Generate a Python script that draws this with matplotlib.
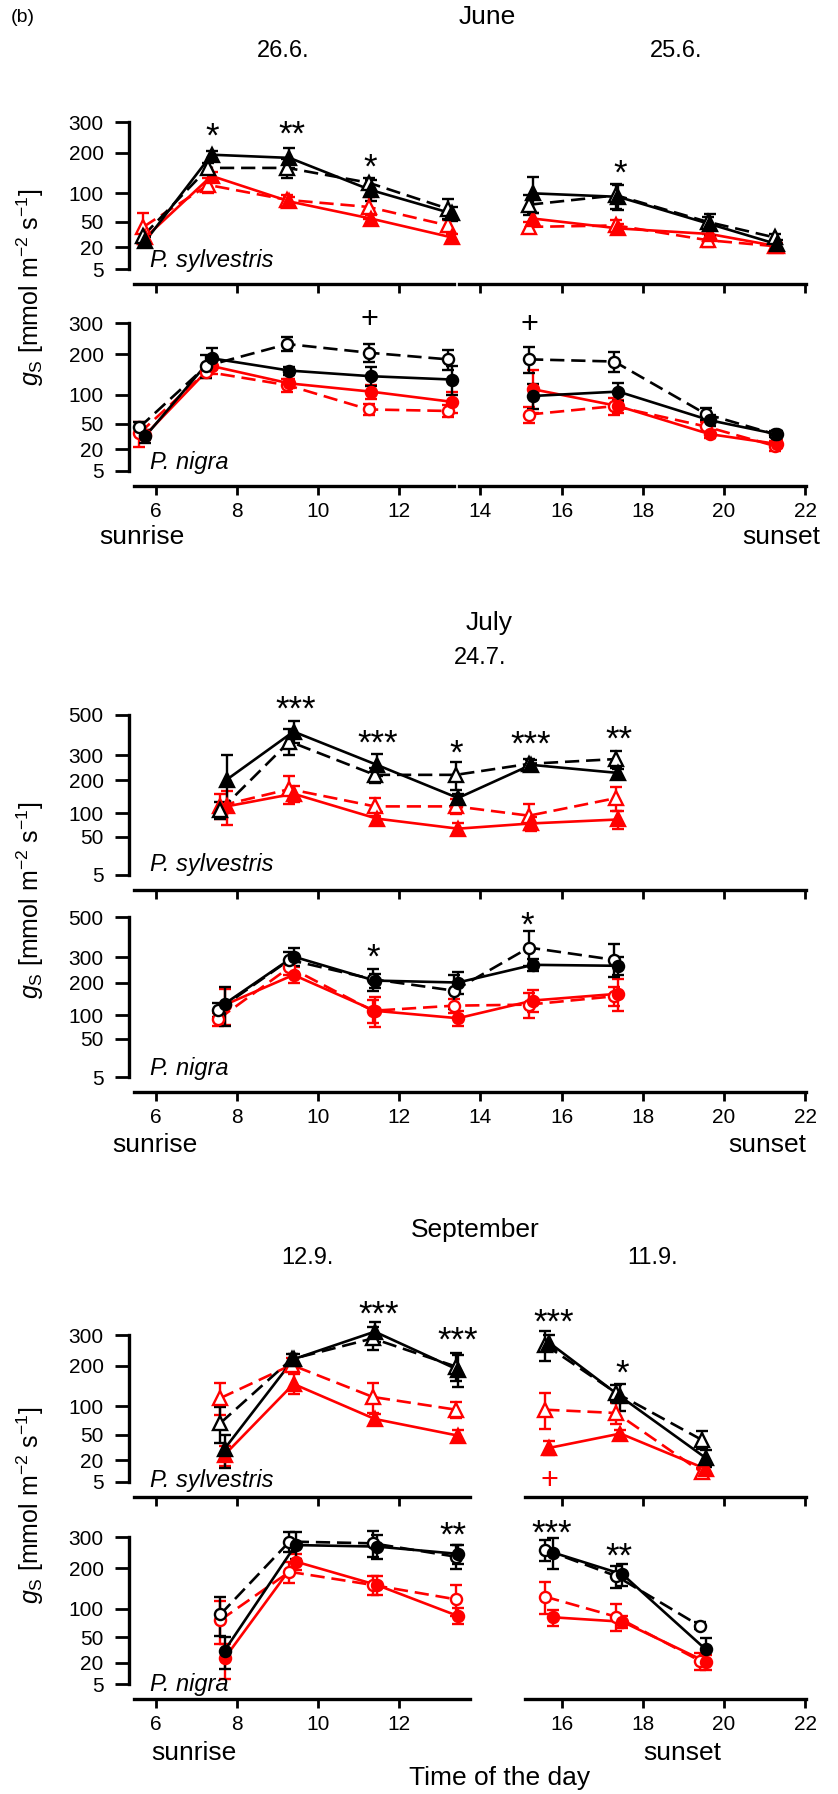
import numpy as np
import matplotlib
matplotlib.use('Agg')
import matplotlib.pyplot as plt

# ---- data (g_s, mmol m-2 s-1) ----
# June, P. sylvestris (triangles); 26.6. morning + 25.6. afternoon
jun_syl_t_fill = [5.75, 7.38, 9.3, 11.3, 13.3, 15.3, 17.4, 19.65, 21.3]
jun_syl_t_open = [5.7, 7.3, 9.25, 11.25, 13.2, 15.2, 17.35, 19.6, 21.25]
jun_syl_blk_fill = [26, 195, 186, 107, 63, 100, 93, 47, 23]
jun_syl_blk_fill_err = [5, 10, 28, 22, 11, 37, 25, 15, 4]
jun_syl_blk_open = [32, 159, 159, 123, 71, 78, 96, 50, 30]
jun_syl_blk_open_err = [6, 12, 25, 12, 17, 18, 25, 8, 4]
jun_syl_red_fill = [30, 139, 84, 55, 30, 55, 41, 34, 21]
jun_syl_red_fill_err = [5, 10, 8, 5, 4, 8, 6, 6, 3]
jun_syl_red_open = [43, 118, 87, 74, 45, 43, 45, 27, 21]
jun_syl_red_open_err = [20, 17, 10, 19, 8, 7, 8, 7, 3]

# June, P. nigra (circles)
jun_nig_t_fill = [5.75, 7.38, 9.3, 11.3, 13.3, 15.3, 17.4, 19.65, 21.3]
jun_nig_t_open = [5.6, 7.25, 9.25, 11.25, 13.2, 15.2, 17.3, 19.55, 21.25]
jun_nig_blk_fill = [33.5, 189, 156, 142, 134, 98, 107, 55, 36]
jun_nig_blk_fill_err = [8, 30, 10, 22, 35, 25, 18, 8, 4]
jun_nig_blk_open = [44.6, 168, 231, 205, 186, 186, 180, 65, 36]
jun_nig_blk_open_err = [8, 30, 22, 25, 28, 35, 28, 10, 4]
jun_nig_red_fill = [35, 168, 125, 107, 86.5, 112, 78.5, 36, 25]
jun_nig_red_fill_err = [6, 20, 10, 15, 20, 45, 12, 5, 4]
jun_nig_red_open = [37, 153, 121, 72.6, 70, 64, 78.5, 46, 23]
jun_nig_red_open_err = [15, 15, 15, 10, 10, 13, 15, 6, 5]

# July 24.7., P. sylvestris
jul_syl_t_fill = [7.75, 9.4, 11.45, 13.45, 15.25, 17.4]
jul_syl_t_open = [7.6, 9.3, 11.4, 13.4, 15.2, 17.35]
jul_syl_blk_fill = [202, 411, 259, 142, 259, 227]
jul_syl_blk_fill_err = [100, 58, 45, 12, 20, 15]
jul_syl_blk_open = [108, 362, 220, 220, 263, 283]
jul_syl_blk_open_err = [23, 60, 28, 52, 22, 35]
jul_syl_red_fill = [118, 155, 87, 65, 76, 85]
jul_syl_red_fill_err = [45, 25, 15, 12, 15, 20]
jul_syl_red_open = [120, 170, 118, 118, 94, 142]
jul_syl_red_open_err = [35, 44, 24, 20, 32, 35]

# July 24.7., P. nigra
jul_nig_t_fill = [7.7, 9.4, 11.4, 13.45, 15.3, 17.4]
jul_nig_t_open = [7.55, 9.3, 11.35, 13.35, 15.2, 17.3]
jul_nig_blk_fill = [131, 303, 207, 200, 268, 264]
jul_nig_blk_fill_err = [55, 40, 25, 40, 25, 38]
jul_nig_blk_open = [115, 289, 212, 172, 344, 289]
jul_nig_blk_open_err = [20, 35, 40, 55, 80, 70]
jul_nig_red_fill = [128, 228, 112, 93, 141, 162]
jul_nig_red_fill_err = [50, 30, 40, 18, 32, 50]
jul_nig_red_open = [91, 258, 112, 126, 129, 154]
jul_nig_red_open_err = [15, 30, 30, 20, 35, 30]

# September 12.9. morning + 11.9. afternoon, P. sylvestris
sep_syl_t_fill = [7.7, 9.4, 11.4, 13.45, 15.7, 17.45, 19.55]
sep_syl_t_open = [7.6, 9.35, 11.35, 13.4, 15.6, 17.35, 19.45]
sep_syl_blk_fill = [31.6, 220, 312, 189, 273, 121, 22]
sep_syl_blk_fill_err = [18, 15, 37, 45, 27, 30, 8]
sep_syl_blk_open = [68.5, 220, 288, 198, 266, 129, 43]
sep_syl_blk_open_err = [30, 15, 40, 40, 50, 20, 12]
sep_syl_red_fill = [25, 151, 75.5, 48.7, 32.7, 51.7, 12.7]
sep_syl_red_fill_err = [10, 25, 10, 8, 8, 5, 3]
sep_syl_red_open = [117.5, 203, 120, 93, 93, 86.5, 10.4]
sep_syl_red_open_err = [35, 20, 34, 15, 35, 20, 3]

# September, P. nigra
sep_nig_t_fill = [7.7, 9.45, 11.45, 13.45, 15.8, 17.5, 19.55]
sep_nig_t_open = [7.6, 9.3, 11.35, 13.4, 15.6, 17.35, 19.4]
sep_nig_blk_fill = [32.4, 273, 268, 244, 248, 183, 34]
sep_nig_blk_fill_err = [18, 45, 40, 30, 50, 30, 15]
sep_nig_blk_open = [88.7, 285, 279, 235, 257, 178, 68]
sep_nig_blk_open_err = [37, 35, 45, 38, 35, 30, 6]
sep_nig_red_fill = [24, 220, 154.5, 85.5, 83, 75, 20.8]
sep_nig_red_fill_err = [16, 25, 25, 15, 15, 10, 7]
sep_nig_red_open = [78, 190, 154.5, 120, 126, 84, 21.8]
sep_nig_red_open_err = [38, 30, 25, 35, 37, 25, 8]

# significance marks: (month, species, time, g_s, text, colour)
marks = [
    ('jun', 'syl', 7.4, 286, '*', 'black'), ('jun', 'syl', 9.35, 292, '**', 'black'),
    ('jun', 'syl', 11.28, 190, '*', 'black'), ('jun', 'syl', 17.45, 172, '*', 'black'),
    ('jun', 'nig', 11.28, 324, '+', 'black'), ('jun', 'nig', 15.2, 306, '+', 'black'),
    ('jul', 'syl', 9.45, 598, '***', 'black'), ('jul', 'syl', 11.48, 406, '***', 'black'),
    ('jul', 'syl', 13.4, 354, '*', 'black'), ('jul', 'syl', 15.25, 402, '***', 'black'),
    ('jul', 'syl', 17.42, 423, '**', 'black'),
    ('jul', 'nig', 11.35, 349, '*', 'black'), ('jul', 'nig', 15.15, 517, '*', 'black'),
    ('sep', 'syl', 11.49, 423, '***', 'black'), ('sep', 'syl', 13.44, 320, '***', 'black'),
    ('sep', 'syl', 15.8, 388, '***', 'black'), ('sep', 'syl', 17.5, 208, '*', 'black'),
    ('sep', 'syl', 15.7, 7, '+', 'red'),
    ('sep', 'nig', 13.33, 348, '**', 'black'), ('sep', 'nig', 15.75, 352, '***', 'black'),
    ('sep', 'nig', 17.42, 270, '**', 'black'),
]

month_titles = {'jun': 'June', 'jul': 'July', 'sep': 'September'}
day_titles = {'jun': ['26.6.', '25.6.'], 'jul': ['24.7.'], 'sep': ['12.9.', '11.9.']}
species_names = {'syl': 'P. sylvestris', 'nig': 'P. nigra'}
ticks_300 = [5, 20, 50, 100, 200, 300]
ticks_500 = [5, 50, 100, 200, 300, 500]

g = globals()
panels = {}
for mo in ['jun', 'jul', 'sep']:
    for sp in ['syl', 'nig']:
        p = {'t_fill': g[mo + '_' + sp + '_t_fill'], 't_open': g[mo + '_' + sp + '_t_open']}
        for s in ['blk_fill', 'blk_open', 'red_fill', 'red_open']:
            p[s] = g[mo + '_' + sp + '_' + s]
            p[s + '_err'] = g[mo + '_' + sp + '_' + s + '_err']
        panels[(mo, sp)] = p

# ---- layout (pixels) ----
plt.rcParams['font.family'] = ['Liberation Sans', 'DejaVu Sans']
plt.rcParams['mathtext.fontset'] = 'custom'
plt.rcParams['mathtext.rm'] = 'Liberation Sans'
plt.rcParams['mathtext.it'] = 'Liberation Sans:italic'

W, H = 838, 1794
fig = plt.figure(figsize=(W / 100, H / 100), dpi=100)


def hx(h):
    # hour of day -> pixel column
    return 155.5 + (h - 6) * 40.6


def ftext(x, y, s, **kw):
    kw.setdefault('ha', 'center')
    kw.setdefault('va', 'center')
    fig.text(x / W, 1 - y / H, s, **kw)


segments = {
    'jun': [(5.47, 13.36, [6, 8, 10, 12]), (13.48, 22.03, [14, 16, 18, 20, 22])],
    'jul': [(5.47, 22.03, list(range(6, 23, 2)))],
    'sep': [(5.47, 13.75, [6, 8, 10, 12]), (15.1, 22.03, [16, 18, 20, 22])],
}
# (top px, x-axis px, top value, ticks, bottom value)
rows = {
    ('jun', 'syl'): (122, 284, 300, ticks_300, 0.49),
    ('jun', 'nig'): (323.3, 486, 300, ticks_300, 0.49),
    ('jul', 'syl'): (715, 890, 500, ticks_500, 0.12),
    ('jul', 'nig'): (917.3, 1092, 500, ticks_500, 0.12),
    ('sep', 'syl'): (1335, 1496.7, 300, ticks_300, 0.49),
    ('sep', 'nig'): (1537.3, 1699.3, 300, ticks_300, 0.49),
}

fwd = lambda v: np.sqrt(np.clip(v, 0, None))
inv = lambda s: np.square(s)

series_style = [('red_open', 'red', False), ('red_fill', 'red', True),
                ('blk_open', 'black', False), ('blk_fill', 'black', True)]

axes = {}
for (mo, sp), (ytop, ybot, ymax, yt, ylow) in rows.items():
    p = panels[(mo, sp)]
    marker = '^' if sp == 'syl' else 'o'
    ms = 9.5 if sp == 'syl' else 8
    for i, (lo, hi, xt) in enumerate(segments[mo]):
        x0, x1 = hx(lo), hx(hi)
        ax = fig.add_axes([x0 / W, 1 - ybot / H, (x1 - x0) / W, (ybot - ytop) / H])
        ax.set_yscale('function', functions=(fwd, inv))
        ax.set_xlim(lo, hi)
        ax.set_ylim(ylow, ymax)
        ax.patch.set_alpha(0)
        for s in ['top', 'right']:
            ax.spines[s].set_visible(False)
        ax.spines['bottom'].set_linewidth(2.4)
        ax.set_xticks(xt)
        ax.tick_params(axis='x', length=6.5, width=2, direction='out', labelsize=15, pad=5)
        if sp == 'syl':
            ax.set_xticklabels([])
        if i == 0:
            ax.spines['left'].set_position(('outward', 3.9))
            ax.spines['left'].set_bounds(5, ymax)
            ax.spines['left'].set_linewidth(2.4)
            ax.set_yticks(yt)
            ax.set_yticklabels([str(v) for v in yt])
            ax.tick_params(axis='y', length=10, width=2, labelsize=15, pad=8)
        else:
            ax.spines['left'].set_visible(False)
            ax.set_yticks([])
        ax.minorticks_off()

        for name, col, filled in series_style:
            t = np.array(p['t_fill'] if filled else p['t_open'])
            v = np.array(p[name], dtype=float)
            e = np.array(p[name + '_err'], dtype=float)
            m = (t >= lo) & (t <= hi)
            ls = '-' if filled else (0, (5.4, 2.6))
            ax.errorbar(t[m], v[m], yerr=e[m], fmt='none', ecolor=col, elinewidth=1.7,
                        capsize=4.5, capthick=1.7, clip_on=False, zorder=3)
            ax.plot(t[m], v[m], color=col, lw=1.9, ls=ls, clip_on=False, zorder=3)
            ax.plot(t[m], v[m], ls='none', marker=marker, ms=ms, mec=col, mew=1.7,
                    mfc=col if filled else 'white', clip_on=False, zorder=4)
        axes[(mo, sp, i)] = ax

# significance marks
for mo, sp, t, v, txt, col in marks:
    i = 0
    for j, (lo, hi, xt) in enumerate(segments[mo]):
        if lo <= t <= hi:
            i = j
    fs = 25 if '*' in txt else 22
    off = -0.6 * fs if '*' in txt else -0.36 * fs
    axes[(mo, sp, i)].annotate(txt, (t, v), xytext=(0, off), textcoords='offset points',
                               ha='center', va='baseline', fontsize=fs, color=col,
                               annotation_clip=False)

# species labels
species_y = {('jun', 'syl'): 260, ('jun', 'nig'): 463, ('jul', 'syl'): 865,
             ('jul', 'nig'): 1068, ('sep', 'syl'): 1480, ('sep', 'nig'): 1684}
for k, y in species_y.items():
    ftext(150, y, species_names[k[1]], ha='left', style='italic', fontsize=17)

# titles
ftext(11, 17, '(b)', ha='left', fontsize=14)
ftext(487, 17, month_titles['jun'], fontsize=19)
ftext(283, 51, day_titles['jun'][0], fontsize=17)
ftext(676, 51, day_titles['jun'][1], fontsize=17)
ftext(489, 623, month_titles['jul'], fontsize=19)
ftext(480, 658, day_titles['jul'][0], fontsize=17)
ftext(475, 1230, month_titles['sep'], fontsize=19)
ftext(307, 1258, day_titles['sep'][0], fontsize=17)
ftext(653, 1258, day_titles['sep'][1], fontsize=17)

# sunrise / sunset
ftext(142, 537, 'sunrise', fontsize=19)
ftext(781, 537, 'sunset', fontsize=19)
ftext(155, 1145, 'sunrise', fontsize=19)
ftext(767, 1145, 'sunset', fontsize=19)
ftext(194, 1753, 'sunrise', fontsize=19)
ftext(682, 1753, 'sunset', fontsize=19)
ftext(500, 1778, 'Time of the day', fontsize=19)

ylab = r'$g_{\mathrm{S}}$ [mmol m$^{-2}$ s$^{-1}$]'
for yc in [287, 900, 1505]:
    ftext(30, yc, ylab, rotation=90, fontsize=18)

fig.savefig('out.png', dpi=100)
